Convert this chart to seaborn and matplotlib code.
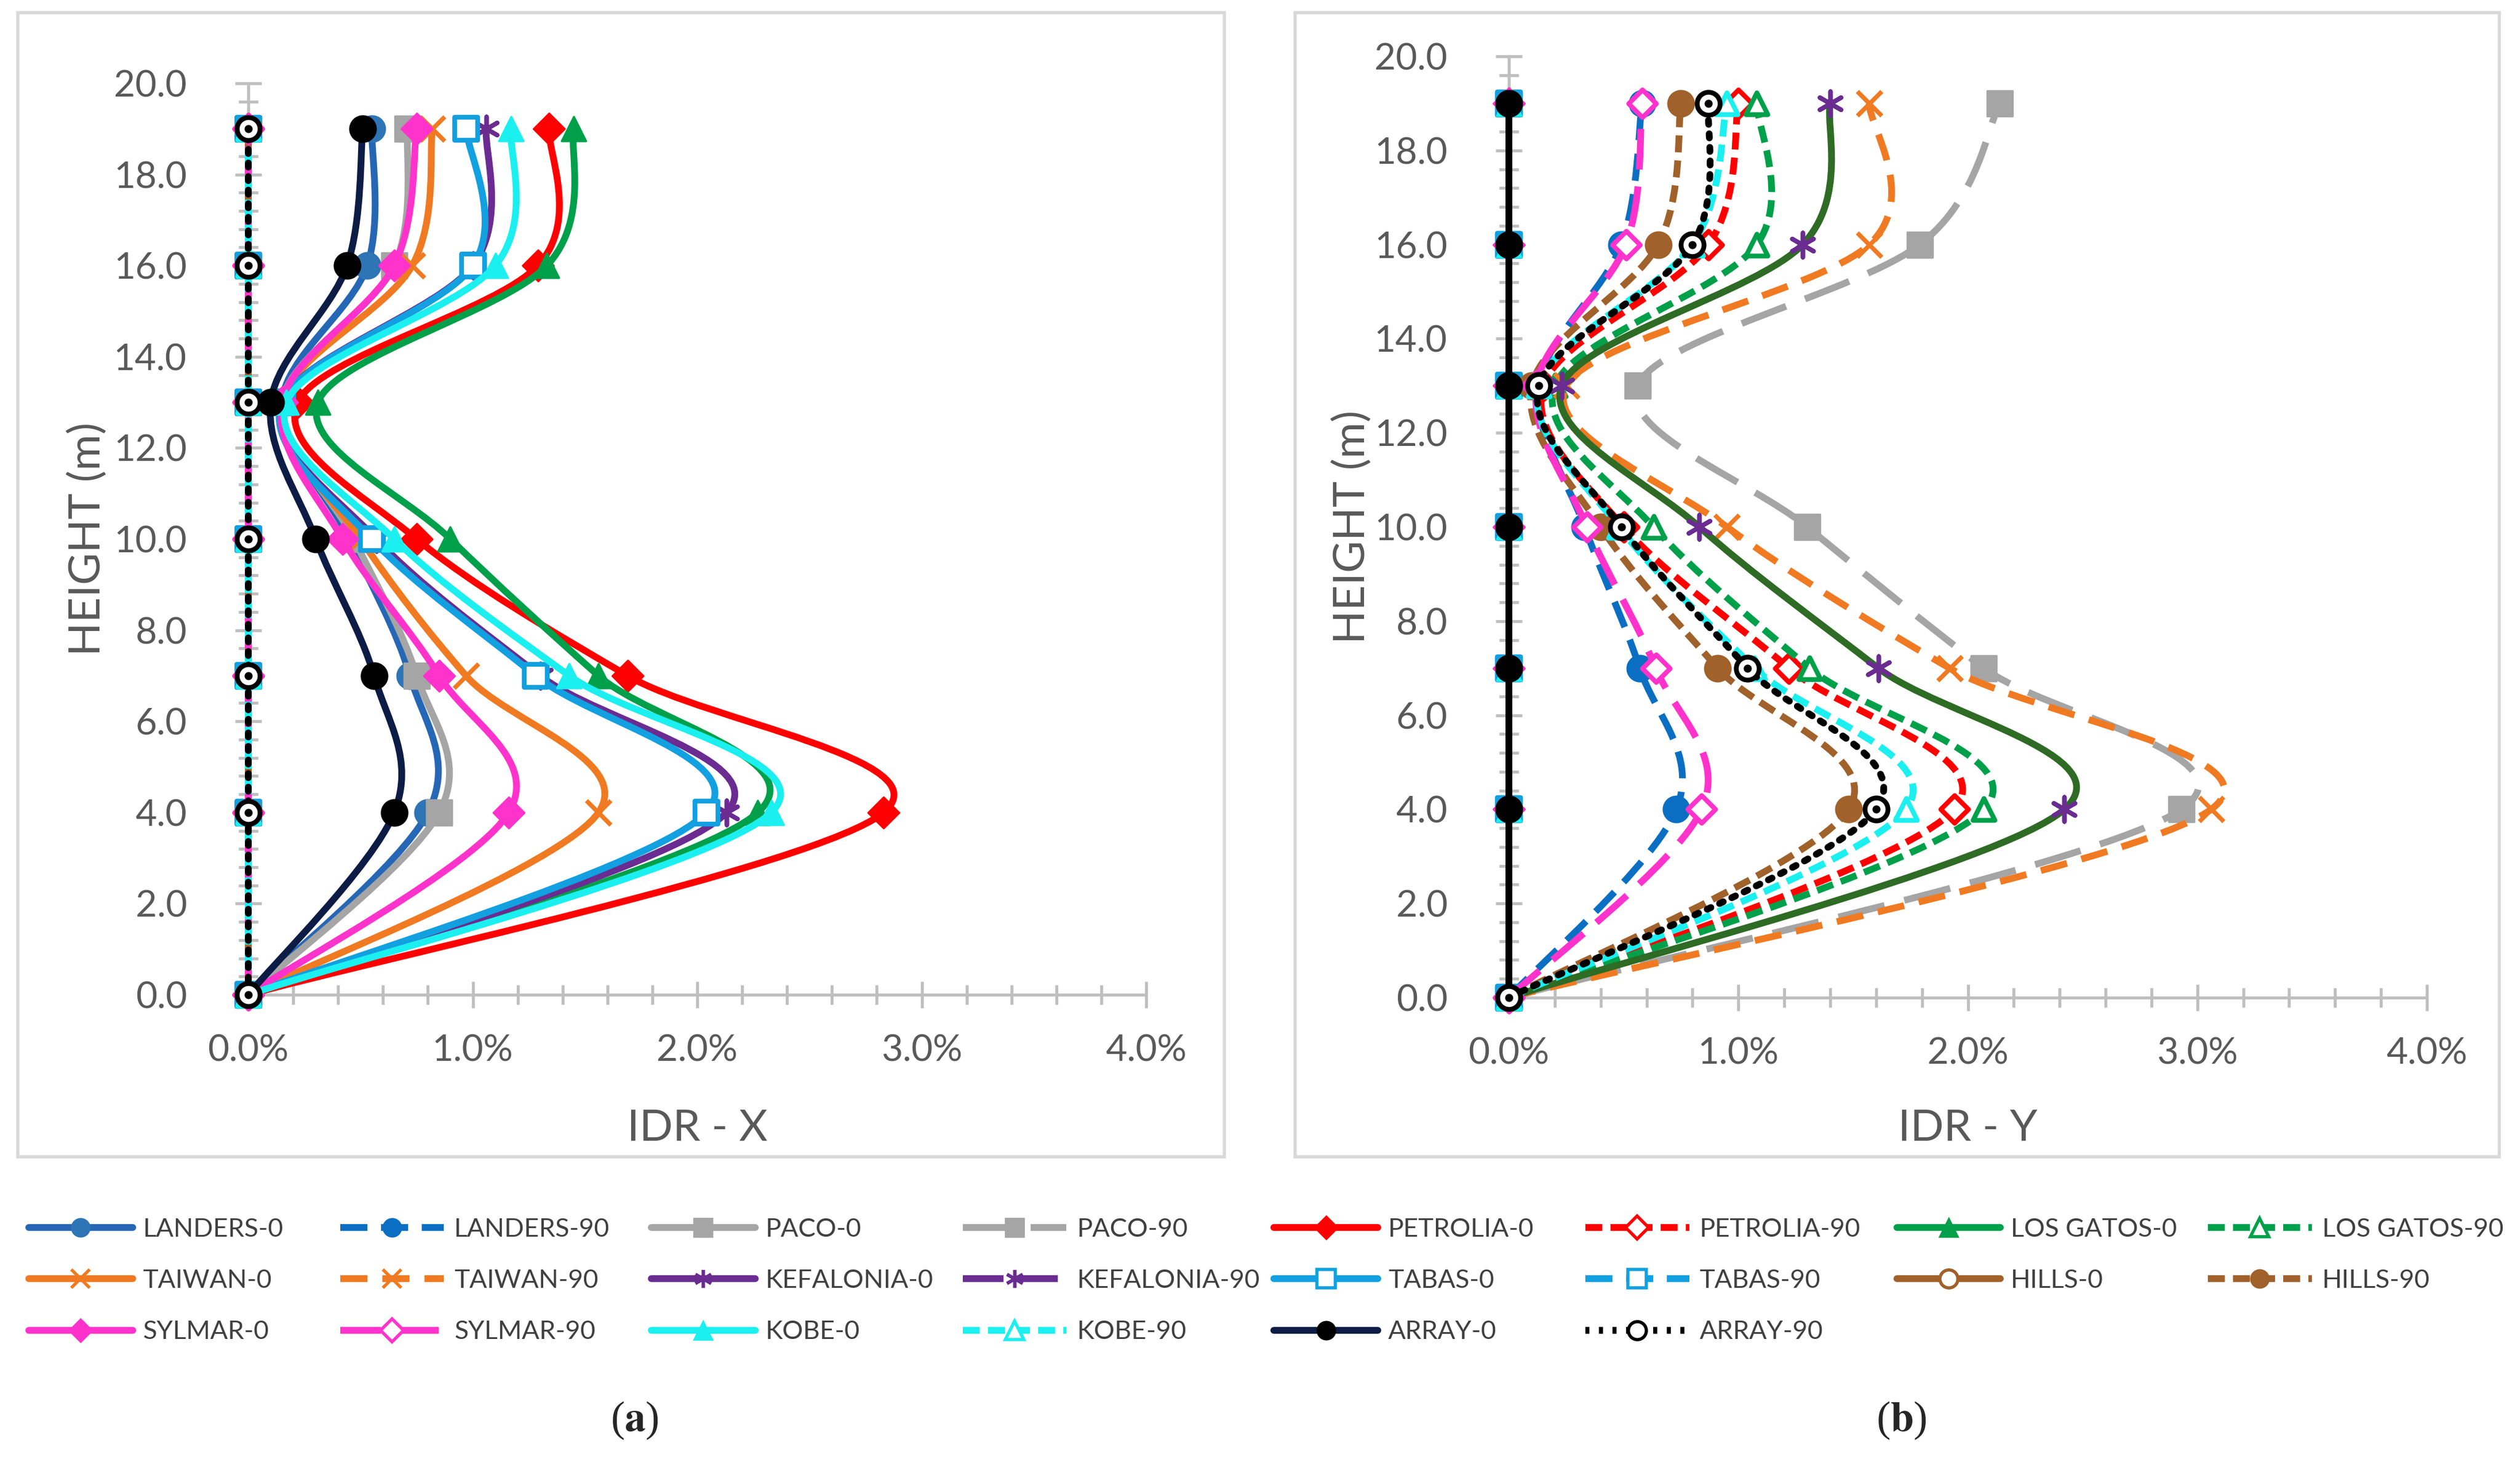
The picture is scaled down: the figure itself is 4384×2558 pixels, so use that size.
import matplotlib
matplotlib.use("Agg")
import matplotlib.pyplot as plt
import numpy as np
import seaborn as sns
from matplotlib.path import Path
from matplotlib.patches import PathPatch, Rectangle
from matplotlib.lines import Line2D
from matplotlib.ticker import MultipleLocator, FuncFormatter

# storey heights (m)
heights = [0, 4, 7, 10, 13, 16, 19]

names = ["LANDERS", "PACO", "PETROLIA", "LOS GATOS", "TAIWAN", "KEFALONIA",
         "TABAS", "HILLS", "SYLMAR", "KOBE", "ARRAY"]

# IDR - X (%) for the 0 deg records (90 deg records are zero in X)
landers_0 = [0, 0.80, 0.72, 0.45, 0.15, 0.53, 0.55]
paco_0 = [0, 0.85, 0.75, 0.47, 0.15, 0.65, 0.71]
petrolia_0 = [0, 2.83, 1.69, 0.75, 0.22, 1.29, 1.34]
losgatos_0 = [0, 2.27, 1.56, 0.90, 0.31, 1.33, 1.45]
taiwan_0 = [0, 1.56, 0.97, 0.50, 0.15, 0.73, 0.82]
kefalonia_0 = [0, 2.13, 1.30, 0.57, 0.15, 1.00, 1.06]
tabas_0 = [0, 2.04, 1.28, 0.55, 0.15, 1.00, 0.97]
hills_0 = [0, 0, 0, 0, 0, 0, 0]
sylmar_0 = [0, 1.16, 0.85, 0.42, 0.15, 0.65, 0.75]
kobe_0 = [0, 2.33, 1.43, 0.65, 0.17, 1.10, 1.17]
array_0 = [0, 0.65, 0.56, 0.30, 0.10, 0.44, 0.51]

# IDR - Y (%) for the 90 deg records (0 deg records are zero in Y)
landers_90 = [0, 0.73, 0.57, 0.33, 0.13, 0.49, 0.58]
paco_90 = [0, 2.93, 2.07, 1.30, 0.56, 1.79, 2.14]
petrolia_90 = [0, 1.94, 1.22, 0.50, 0.15, 0.87, 1.00]
losgatos_90 = [0, 2.07, 1.31, 0.63, 0.20, 1.08, 1.08]
taiwan_90 = [0, 3.06, 1.92, 0.95, 0.25, 1.57, 1.57]
kefalonia_90 = [0, 2.42, 1.61, 0.83, 0.23, 1.28, 1.40]
tabas_90 = [0, 0, 0, 0, 0, 0, 0]
hills_90 = [0, 1.48, 0.91, 0.40, 0.10, 0.65, 0.75]
sylmar_90 = [0, 0.84, 0.64, 0.34, 0.12, 0.51, 0.58]
kobe_90 = [0, 1.73, 1.07, 0.48, 0.13, 0.80, 0.95]
array_90 = [0, 1.60, 1.04, 0.49, 0.13, 0.80, 0.87]

zeros = [0] * len(heights)
x_data = {"LANDERS-0": landers_0, "PACO-0": paco_0, "PETROLIA-0": petrolia_0,
          "LOS GATOS-0": losgatos_0, "TAIWAN-0": taiwan_0, "KEFALONIA-0": kefalonia_0,
          "TABAS-0": tabas_0, "HILLS-0": hills_0, "SYLMAR-0": sylmar_0,
          "KOBE-0": kobe_0, "ARRAY-0": array_0}
y_data = {"LANDERS-90": landers_90, "PACO-90": paco_90, "PETROLIA-90": petrolia_90,
          "LOS GATOS-90": losgatos_90, "TAIWAN-90": taiwan_90, "KEFALONIA-90": kefalonia_90,
          "TABAS-90": tabas_90, "HILLS-90": hills_90, "SYLMAR-90": sylmar_90,
          "KOBE-90": kobe_90, "ARRAY-90": array_90}

# styles: line colour, marker colour, marker, filled, linestyle
AST = (6, 2, 0)
styles = {
    "LANDERS-0": ("#2667B5", "#2E75B6", "o", True, "-"),
    "LANDERS-90": ("#0A6FC2", "#0A6FC2", "o", True, (0, (4, 2))),
    "PACO-0": ("#A5A5A5", "#A5A5A5", "s", True, "-"),
    "PACO-90": ("#A5A5A5", "#A5A5A5", "s", True, (0, (7, 3))),
    "PETROLIA-0": ("#FF0000", "#FF0000", "D", True, "-"),
    "PETROLIA-90": ("#FF0000", "#FF0000", "D", False, (0, (2.5, 1.2))),
    "LOS GATOS-0": ("#00A04A", "#00A04A", "^", True, "-"),
    "LOS GATOS-90": ("#00A04A", "#00A04A", "^", False, (0, (2.5, 1.2))),
    "TAIWAN-0": ("#F07A22", "#F07A22", "x", True, "-"),
    "TAIWAN-90": ("#F07A22", "#F07A22", "x", True, (0, (4, 2.2))),
    "KEFALONIA-0": ("#6A2C91", "#6A2C91", AST, True, "-"),
    "KEFALONIA-90": ("#6A2C91", "#6A2C91", AST, True, (0, (6, 2))),
    "TABAS-0": ("#12A0E0", "#12A0E0", "s", False, "-"),
    "TABAS-90": ("#12A0E0", "#12A0E0", "s", False, (0, (4, 2))),
    "HILLS-0": ("#A0612B", "#A0612B", "o", False, "-"),
    "HILLS-90": ("#A0612B", "#A0612B", "o", True, (0, (2.5, 1.2))),
    "SYLMAR-0": ("#FF33CC", "#FF33CC", "D", True, "-"),
    "SYLMAR-90": ("#FF33CC", "#FF33CC", "D", False, (0, (6, 2.5))),
    "KOBE-0": ("#1CEFEF", "#1CEFEF", "^", True, "-"),
    "KOBE-90": ("#1CEFEF", "#1CEFEF", "^", False, (0, (2.5, 1.2))),
    "ARRAY-0": ("#0C1C45", "#000000", "o", True, "-"),
    "ARRAY-90": ("#000000", "#000000", "o", False, (0, (0.6, 1.4))),
}
# in panel (b) the KEFALONIA-90 curve is drawn dark green in the original
line_override_b = {"KEFALONIA-90": ("#2E6B25", "-"), "ARRAY-0": ("#000000", "-")}

order = []
for n in names:
    order += [n + "-0", n + "-90"]

sns.set_theme(style="white")
plt.rcParams["font.family"] = ["Lato", "DejaVu Sans"]
plt.rcParams["mathtext.fontset"] = "stix"

W, H, DPI = 4384, 2558, 250
fig = plt.figure(figsize=(W / DPI, H / DPI), dpi=DPI)

GRAY = "#BFBFBF"
TXT = "#595959"
LW = 3.4


def smooth_path(xs, ys):
    pts = np.column_stack([xs, ys]).astype(float)
    n = len(pts)
    verts = [pts[0]]
    codes = [Path.MOVETO]
    for i in range(n - 1):
        p0 = pts[i - 1] if i > 0 else pts[i]
        p1, p2 = pts[i], pts[i + 1]
        p3 = pts[i + 2] if i + 2 < n else pts[i + 1]
        verts += [p1 + (p2 - p0) / 6, p2 - (p3 - p1) / 6, p2]
        codes += [Path.CURVE4] * 3
    return Path(verts, codes)


def msize(m):
    if m == "D":
        return 120
    if m == "x" or m == AST:
        return 150
    if m == "^":
        return 150
    return 165


def draw_panel(ax, data, panel):
    for name in order:
        vals = data.get(name, zeros)
        lc, mc, mk, filled, ls = styles[name]
        if panel == "b" and name in line_override_b:
            lc, ls = line_override_b[name]
        patch = PathPatch(smooth_path(vals, heights), facecolor="none", edgecolor=lc,
                          lw=LW, linestyle=ls, capstyle="round" if name == "ARRAY-90" else "butt",
                          clip_on=False, zorder=3)
        ax.add_patch(patch)
        if mk in ("x", AST):
            sns.scatterplot(x=vals, y=heights, marker=mk, s=msize(mk), color=mc,
                            linewidth=2.2, ax=ax, clip_on=False, zorder=3)
        elif filled:
            sns.scatterplot(x=vals, y=heights, marker=mk, s=msize(mk), color=mc,
                            edgecolor=mc, linewidth=1.0, ax=ax, clip_on=False, zorder=3)
        else:
            sns.scatterplot(x=vals, y=heights, marker=mk, s=msize(mk) * 0.8, color="white",
                            edgecolor=mc, linewidth=2.4, ax=ax, clip_on=False, zorder=3)
            if name == "ARRAY-90":
                sns.scatterplot(x=vals, y=heights, marker="o", s=14, color="black",
                                edgecolor="black", ax=ax, clip_on=False, zorder=3)

    ax.set_xlim(0, 4)
    ax.set_ylim(0, 20)
    ax.xaxis.set_major_locator(MultipleLocator(1))
    ax.xaxis.set_minor_locator(MultipleLocator(0.2))
    ax.yaxis.set_major_locator(MultipleLocator(2))
    ax.yaxis.set_minor_locator(MultipleLocator(0.4))
    ax.xaxis.set_major_formatter(FuncFormatter(lambda v, p: f"{v:.1f}%"))
    ax.yaxis.set_major_formatter(FuncFormatter(lambda v, p: f"{v:.1f}"))
    for s in ("top", "right"):
        ax.spines[s].set_visible(False)
    for s in ("left", "bottom"):
        ax.spines[s].set_color(GRAY)
        ax.spines[s].set_linewidth(1.5)
    ax.tick_params(which="major", direction="inout", length=13.5, width=1.5, color=GRAY,
                   labelsize=18.5, labelcolor=TXT)
    ax.tick_params(which="minor", direction="inout", length=10, width=1.5, color=GRAY)
    ax.tick_params(axis="y", which="major", pad=24, left=True)
    ax.tick_params(axis="x", which="major", pad=13, bottom=True)
    ax.tick_params(axis="y", which="minor", left=True)
    ax.tick_params(axis="x", which="minor", bottom=True)
    ax.set_facecolor("none")


ax_a = fig.add_axes([432 / W, 1 - 1731 / H, 1562 / W, 1586 / H])
ax_b = fig.add_axes([2625 / W, 1 - 1736 / H, 1597 / W, 1638 / H])

draw_panel(ax_a, x_data, "a")
draw_panel(ax_b, y_data, "b")

ax_a.set_xlabel("IDR - X", fontsize=22, color=TXT)
ax_a.set_ylabel("HEIGHT (m)", fontsize=22, color=TXT)
ax_a.xaxis.set_label_coords(0.5, -0.125)
ax_a.yaxis.set_label_coords(-0.157, 0.5)
ax_b.set_xlabel("IDR - Y", fontsize=22, color=TXT)
ax_b.set_ylabel("HEIGHT (m)", fontsize=22, color=TXT)
ax_b.xaxis.set_label_coords(0.5, -0.118)
ax_b.yaxis.set_label_coords(-0.149, 0.5)

# light panel frames
for x0, x1 in ((31, 2130), (2253, 4348)):
    fig.add_artist(Rectangle((x0 / W, 1 - 2013 / H), (x1 - x0) / W, (2013 - 22) / H,
                             transform=fig.transFigure, fill=False, edgecolor="#D9D9D9",
                             lw=1.6))

# legend laid out row by row, 8 equal columns
for i, name in enumerate(order):
    lc, mc, mk, filled, ls = styles[name]
    h = Line2D([0], [0], color=lc, lw=LW, linestyle=ls, marker=mk,
               markersize=9 if mk != "D" else 8,
               markerfacecolor=(mc if filled else "white"), markeredgecolor=mc,
               markeredgewidth=1.6 if not filled or mk in ("x", AST) else 0.8)
    row, col = divmod(i, 8)
    xl = (50 + col * 541.6) / W
    yl = 1 - (2139 + row * 89.5) / H
    fig.legend(handles=[h], labels=[name], loc="center left", bbox_to_anchor=(xl, yl),
               frameon=False, fontsize=13, handlelength=4.0, handletextpad=0.4,
               borderpad=0, borderaxespad=0, labelcolor="#404040")

fig.text(1104 / W, 1 - 2472 / H, r"($\mathbf{a}$)", fontsize=21, ha="center", va="center",
         family="Liberation Serif")
fig.text(3308 / W, 1 - 2472 / H, r"($\mathbf{b}$)", fontsize=21, ha="center", va="center",
         family="Liberation Serif")

fig.savefig("out.png", dpi=DPI, facecolor="white")
